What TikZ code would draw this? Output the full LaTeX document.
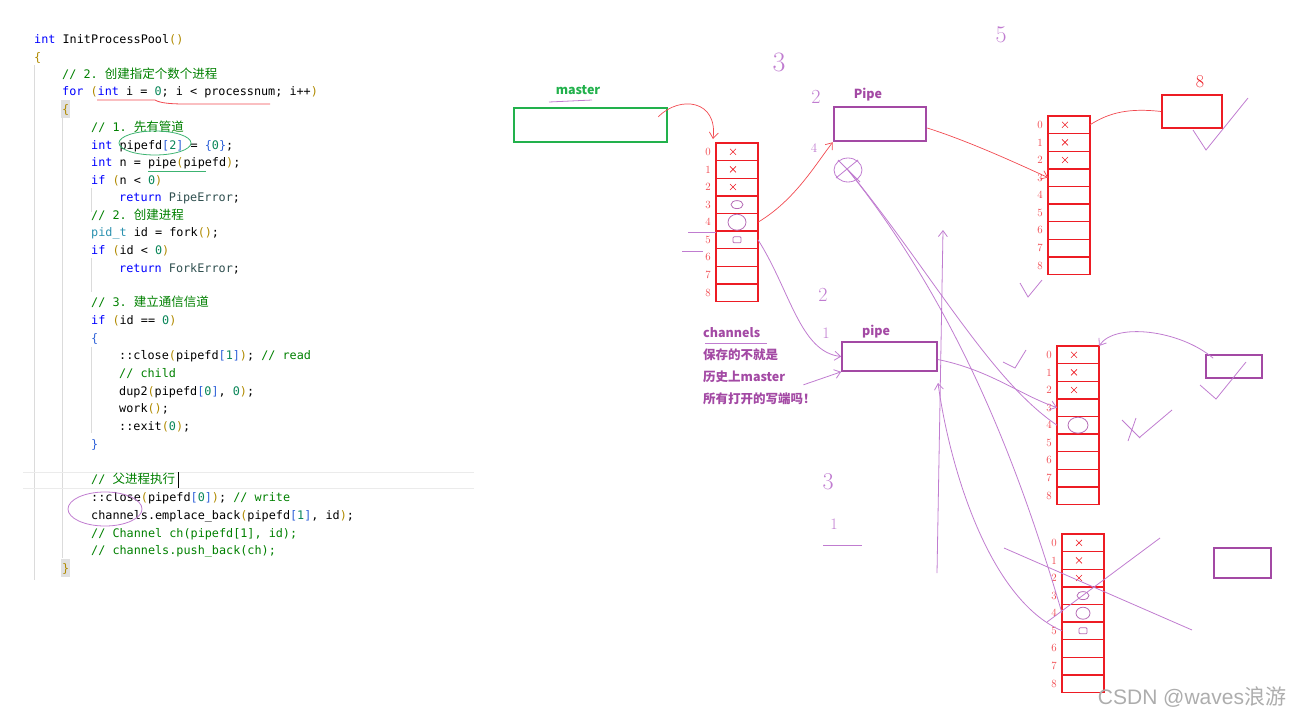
\documentclass[tikz,border=0pt]{standalone}
\usepackage{fontspec}
\setmonofont{DejaVu Sans Mono}
\newfontfamily\cjk{Noto Sans CJK SC}
\newfontfamily\wmfont{Liberation Sans}
\usepackage{tikz}
\usetikzlibrary{
    arrows.meta,
    positioning,
    calc
}
\usepackage{xcolor}

\definecolor{kwblue}{HTML}{0000FF}
\definecolor{cmgreen}{HTML}{008000}
\definecolor{numgreen}{HTML}{098658}
\definecolor{tyteal}{HTML}{2B91AF}
\definecolor{pargold}{HTML}{B08A00}
\definecolor{brblue}{HTML}{2F62D8}
\definecolor{enumslate}{HTML}{2F4F4F}
\definecolor{mastergreen}{HTML}{22B14C}
\definecolor{penpurple}{HTML}{A349A4}
\definecolor{penred}{HTML}{ED1C24}
\definecolor{penlight}{HTML}{C07CD0}
\definecolor{annogreen}{HTML}{3CB371}

\newcommand{\codefnt}{\ttfamily\fontsize{11.8}{14}\selectfont}
\newcommand{\czh}[1]{{\cjk\fontsize{12.5}{14}\selectfont #1}}
\newcommand{\ckw}[1]{\textcolor{kwblue}{#1}}
\newcommand{\ccm}[1]{\textcolor{cmgreen}{#1}}
\newcommand{\cnum}[1]{\textcolor{numgreen}{#1}}
\newcommand{\ctype}[1]{\textcolor{tyteal}{#1}}
\newcommand{\cpar}[1]{\textcolor{pargold}{#1}}
\newcommand{\cbr}[1]{\textcolor{brblue}{#1}}
\newcommand{\cenum}[1]{\textcolor{enumslate}{#1}}

% one fd table: name, left x, top y
\newcommand{\fdtable}[3]{%
    \foreach \r in {0,...,8} {
        \node[fdcell] (#1-\r) at (#2+21, #3+8.8+17.6*\r) {};
        \node[fdnum, left=5pt of #1-\r] (#1-n\r) {\r};
    }%
}

\begin{document}
\begin{tikzpicture}[
        x=1pt, y=-1pt,
        >={Straight Barb[length=6pt,width=9pt]},
        code/.style={anchor=base west, inner sep=0pt, font=\codefnt},
        guide/.style={draw=black!14, line width=0.8pt},
        fdcell/.style={
            draw=penred,
            line width=1.4pt,
            minimum width=42pt,
            minimum height=17.6pt,
            inner sep=0pt,
            outer sep=0pt
        },
        fdnum/.style={text=penred!85, font=\fontsize{11}{11}\selectfont, inner sep=0pt},
        tag/.style={inner sep=0pt, font=\cjk\bfseries\fontsize{12.5}{15}\selectfont, text=penpurple},
        hand/.style={inner sep=0pt, text=penlight, font=\fontsize{20}{20}\selectfont},
        redline/.style={draw=penred!80, line width=0.7pt},
        penline/.style={draw=penlight, line width=0.8pt},
        scrib/.style={draw=penpurple!80, line width=0.8pt}
    ]
    \useasboundingbox (0,0) rectangle (1297,720);

    % editor background bits
    \fill[black!12] (61,100) rectangle (70,118);
    \fill[black!12] (61,559) rectangle (70,577);
    \draw[guide] (34,65) -- (34,580);
    \draw[guide] (62,118) -- (62,558);
    \draw[guide] (91,188) -- (91,212);
    \draw[guide] (91,258) -- (91,292);
    \draw[guide] (91,347) -- (91,433);
    \draw[black!8, line width=0.8pt] (23,472) -- (474,472) (23,488) -- (474,488);

    % code
    \node[code] (c1) at (34,43.5) {\ckw{int} InitProcessPool\cpar{()}};
    \node[code] (c2) at (34,61.5) {\cpar{\{}};
    \node[code] (c3) at (62,78.5) {\ccm{// 2. \czh{创建指定个数个进程}}};
    \node[code] (c4) at (62,95.5) {\ckw{for} \cpar{(}\ckw{int} i = \cnum{0}; i < processnum; i++\cpar{)}};
    \node[code] (c5) at (62,113.5) {\cpar{\{}};
    \node[code] (c6) at (91,131.5) {\ccm{// 1. \czh{先有管道}}};
    \node[code] (c7) at (91,149.5) {\ckw{int} pipefd\cbr{[}\cnum{2}\cbr{]} = \cbr{\{}\cnum{0}\cbr{\}};};
    \node[code] (c8) at (91,166.5) {\ckw{int} n = pipe\cpar{(}pipefd\cpar{)};};
    \node[code] (c9) at (91,184.5) {\ckw{if} \cpar{(}n < \cnum{0}\cpar{)}};
    \node[code] (c10) at (119,201.5) {\ckw{return} \cenum{PipeError};};
    \node[code] (c11) at (91,219.5) {\ccm{// 2. \czh{创建进程}}};
    \node[code] (c12) at (91,236.5) {\ctype{pid\_t} id = fork\cpar{()};};
    \node[code] (c13) at (91,254.5) {\ckw{if} \cpar{(}id < \cnum{0}\cpar{)}};
    \node[code] (c14) at (119,272.5) {\ckw{return} \cenum{ForkError};};
    \node[code] (c15) at (91,306.5) {\ccm{// 3. \czh{建立通信信道}}};
    \node[code] (c16) at (91,324.5) {\ckw{if} \cpar{(}id == \cnum{0}\cpar{)}};
    \node[code] (c17) at (91,342.5) {\cbr{\{}};
    \node[code] (c18) at (119,359.5) {::close\cpar{(}pipefd\cbr{[}\cnum{1}\cbr{]}\cpar{)}; \ccm{// read}};
    \node[code] (c19) at (119,377.5) {\ccm{// child}};
    \node[code] (c20) at (119,395.5) {dup2\cpar{(}pipefd\cbr{[}\cnum{0}\cbr{]}, \cnum{0}\cpar{)};};
    \node[code] (c21) at (119,412.5) {work\cpar{()};};
    \node[code] (c22) at (119,430.5) {::exit\cpar{(}\cnum{0}\cpar{)};};
    \node[code] (c23) at (91,448.5) {\cbr{\}}};
    \node[code] (c24) at (91,483.5) {\ccm{// \czh{父进程执行}}};
    \node[code] (c25) at (91,501.5) {::close\cpar{(}pipefd\cbr{[}\cnum{0}\cbr{]}\cpar{)}; \ccm{// write}};
    \node[code] (c26) at (91,519.5) {channels.emplace\_back\cpar{(}pipefd\cbr{[}\cnum{1}\cbr{]}, id\cpar{)};};
    \node[code] (c27) at (91,537.5) {\ccm{// Channel ch(pipefd[1], id);}};
    \node[code] (c28) at (91,554.5) {\ccm{// channels.push\_back(ch);}};
    \node[code] (c29) at (62,572.5) {\cpar{\}}};
    \draw[black, line width=0.8pt] (178,472) -- (178,488);

    % marks on the code
    \draw[penred!80, line width=0.8pt] (97,100) -- (155,100) .. controls (160,103) and (170,104) .. (185,104) -- (270,104);
    \draw[annogreen, line width=0.8pt] (155,143) ellipse [x radius=36pt, y radius=12pt];
    \draw[annogreen, line width=0.8pt] (148,171) -- (206,171);
    \draw[penlight, line width=0.8pt] (105,509) ellipse [x radius=37pt, y radius=17pt];

    % boxes
    \node[draw=mastergreen, line width=2.5pt, minimum width=153pt, minimum height=34pt] (master) at (590.5,125) {};
    \node[tag, text=mastergreen] (masterlab) at (578,90) {master};
    \draw[penlight, line width=0.8pt] (549,102) -- (592,100);
    \node[draw=penpurple, line width=2.5pt, minimum width=92pt, minimum height=34pt] (pipeA) at (880,124) {};
    \node[tag] (pipeAlab) at (868,95) {Pipe};
    \node[draw=penpurple, line width=1.6pt, minimum width=95pt, minimum height=29pt] (pipeB) at (889.5,356.5) {};
    \node[tag] (pipeBlab) at (876,332) {pipe};
    \node[draw=penred, line width=1.6pt, minimum width=60pt, minimum height=33pt] (redbox) at (1192,111.5) {};
    \node[draw=penpurple, line width=1.6pt, minimum width=56pt, minimum height=23pt] (purpC) at (1234,366.5) {};
    \node[draw=penpurple, line width=1.6pt, minimum width=57pt, minimum height=30pt] (purpD) at (1242.5,563) {};

    % fd tables
    \fdtable{fdA}{716}{143}
    \fdtable{fdB}{1048}{116}
    \fdtable{fdC}{1057}{346}
    \fdtable{fdD}{1062}{534}
    \foreach \t in {fdA,fdB,fdC,fdD} {
        \draw[penred, line width=2.4pt] (\t-3.north west) rectangle (\t-4.south east);
        \foreach \r in {0,1,2}
            \draw[penred, line width=0.6pt] ([shift={(-7,-3)}]\t-\r.center) -- ([shift={(-1,3)}]\t-\r.center)
                ([shift={(-7,3)}]\t-\r.center) -- ([shift={(-1,-3)}]\t-\r.center);
    }
    \draw[scrib] (fdA-3.center) ellipse [x radius=6pt, y radius=4pt];
    \draw[scrib] (fdA-4.center) ellipse [x radius=9pt, y radius=8pt];
    \draw[scrib, rounded corners=1pt] ([shift={(-4,-3)}]fdA-5.center) rectangle ([shift={(4,3)}]fdA-5.center);
    \draw[scrib] (fdC-4.center) ellipse [x radius=10pt, y radius=8pt];
    \draw[scrib] (fdD-3.center) ellipse [x radius=6pt, y radius=4pt];
    \draw[scrib] (fdD-4.center) ellipse [x radius=7pt, y radius=6pt];
    \draw[scrib, rounded corners=1pt] ([shift={(-4,-3)}]fdD-5.center) rectangle ([shift={(4,3)}]fdD-5.center);
    \draw[penline] (688,232) -- (716,232) (682,251) -- (703,251);

    % channels note
    \node[tag, anchor=base west] (chn) at (703,337.5) {channels};
    \draw[penlight, line width=0.8pt] (705,343) -- (767,343);
    \node[tag, anchor=base west] (ch1) at (703,359.5) {保存的不就是};
    \node[tag, anchor=base west] (ch2) at (703,381.5) {历史上master};
    \node[tag, anchor=base west] (ch3) at (703,403.5) {所有打开的写端吗！};

    % red connectors
    \draw[redline, ->] ([shift={(-10,10)}]master.north east) .. controls (680,95) and (718,100) .. ([shift={(-3,-4)}]fdA-0.north west);
    \draw[redline, ->] (fdA-4.east) .. controls (795,200) and (815,165) .. (pipeA.south west);
    \draw[redline, ->] ([yshift=-4pt]pipeA.east) .. controls (965,140) and (1010,160) .. (fdB-3.west);
    \draw[redline] (fdB-0.east) .. controls (1110,112) and (1130,108) .. (redbox.west);

    % purple connectors
    \draw[penline, ->] (fdA-5.east) .. controls (790,290) and (800,352) .. (pipeB.west);
    \draw[penline, ->] ($(ch2.east)+(18,8)$) -- (pipeB.south west);
    \draw[penline, ->] ($(purpC.north west)+(8,4)$) .. controls (1180,330) and (1115,322) .. (fdC-0.north east);
    \draw[penline, ->] ([yshift=-3pt]pipeB.east) .. controls (990,370) and (1020,395) .. (fdC-3.west);
    \coordinate (hub) at (848,170);
    \draw[penline] (hub) ellipse [x radius=14pt, y radius=12pt];
    \draw[penline] ([shift={(-10,-10)}]hub) -- ([shift={(12,12)}]hub) ([shift={(-12,8)}]hub) -- ([shift={(10,-10)}]hub);
    \draw[penline] (hub) .. controls (930,270) and (990,380) .. (fdC-4.west);
    \draw[penline] (hub) .. controls (960,310) and (1020,470) .. (fdD-4.west);
    \coordinate (upbot) at (937,573);
    \coordinate (uptop) at (943,230);
    \coordinate (upmid) at (938,383);
    \draw[penline, ->] (upbot) -- (uptop);
    \draw[penline, ->] (fdD-5.west) .. controls (990,600) and (950,470) .. (upmid);
    \draw[penline] (1004,548) -- (1192,630) (1047,622) -- (1160,538);

    % ticks and scribbles
    \draw[penline] (1193,130) -- (1206,150) -- (1248,98);
    \draw[penline] (1020,283) -- (1028,297) -- (1042,280);
    \draw[penline] (1200,385) -- (1216,399) -- (1246,362);
    \draw[penline] (1003,362) -- (1015,368) -- (1026,350);
    \draw[penline] (1122,420) -- (1140,438) (1128,441) -- (1136,418) (1140,437) -- (1172,410);
    \draw[penline] (823,545) -- (862,545);

    % hand-written numbers
    \node[hand, font=\fontsize{28}{28}\selectfont] (h3a) at (779,62) {3};
    \node[hand] (h2a) at (816,97) {2};
    \node[hand, font=\fontsize{24}{24}\selectfont] (h5) at (1001,35) {5};
    \node[hand, font=\fontsize{13}{13}\selectfont] (h4) at (814,148) {4};
    \node[hand] (h2b) at (823,295) {2};
    \node[hand, font=\fontsize{16}{16}\selectfont] (h1a) at (826,333) {1};
    \node[hand, font=\fontsize{24}{24}\selectfont] (h3b) at (828,482) {3};
    \node[hand, font=\fontsize{16}{16}\selectfont] (h1b) at (834,524) {1};
    \node[hand, text=penred, font=\fontsize{18}{18}\selectfont] (h8) at (1200,82) {8};

    % watermark
    \node[inner sep=0pt, text=black!32, font=\fontsize{21}{21}\selectfont] (wm) at (1192,697) {\wmfont CSDN @waves\cjk 浪游};
\end{tikzpicture}
\end{document}
